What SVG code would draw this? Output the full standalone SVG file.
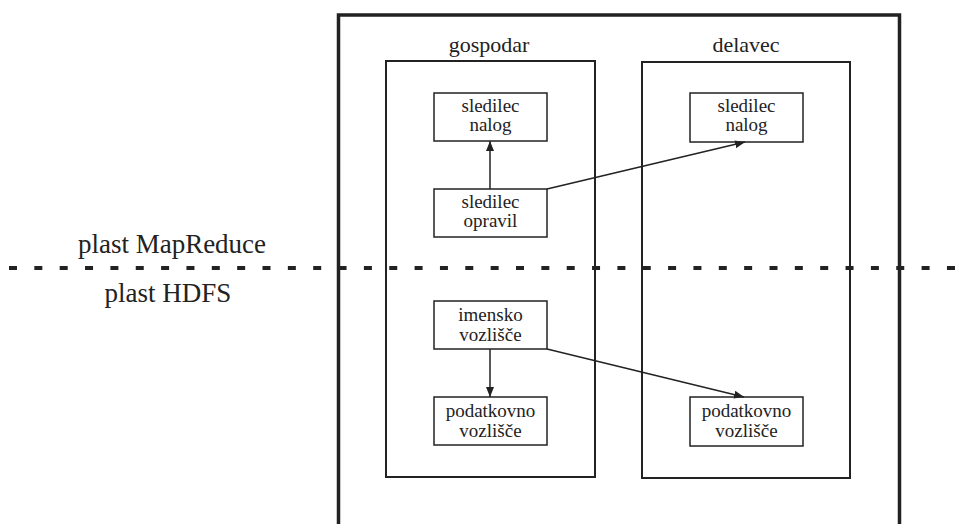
<svg xmlns="http://www.w3.org/2000/svg" width="971" height="524" viewBox="0 0 971 524">
<style>
text{font-family:"Liberation Serif","DejaVu Serif",serif;fill:#222;text-anchor:middle}
.node rect{fill:#fff;stroke:#222;stroke-width:1.5}
.t{font-size:19px}
.lbl{font-size:22px}
.layer{font-size:27px}
.host{fill:none;stroke:#222;stroke-width:2}
.conn line{stroke:#222;stroke-width:1.5;fill:none}
</style>
<defs>
<marker id="ah" viewBox="0 0 10 8" refX="10" refY="4" markerWidth="10" markerHeight="8" markerUnits="userSpaceOnUse" orient="auto">
<path d="M0,0 L10,4 L0,8 z" fill="#222"/>
</marker>
</defs>
<rect x="0" y="0" width="971" height="524" fill="#fff"/>
<g id="cluster">
<path d="M338.5,524 V15 H899.5 V524" fill="none" stroke="#222" stroke-width="3.5"/>
</g>
<g id="layer-line">
<line x1="9" y1="268" x2="971" y2="268" stroke="#222" stroke-width="4" stroke-dasharray="8 17.35"/>
<text class="layer" x="172" y="253">plast MapReduce</text>
<text class="layer" x="168" y="302">plast HDFS</text>
</g>
<g id="gospodar">
<rect class="host" x="386" y="61" width="209" height="416"/>
<text class="lbl" x="489" y="52">gospodar</text>
</g>
<g id="delavec">
<rect class="host" x="642" y="62" width="208" height="416"/>
<text class="lbl" x="746" y="52">delavec</text>
</g>
<g id="m-sledilec-nalog" class="node">
<rect x="434" y="93" width="113" height="48"/>
<text class="t" x="490.5" y="112">sledilec</text>
<text class="t" x="490.5" y="131">nalog</text>
</g>
<g id="m-sledilec-opravil" class="node">
<rect x="434" y="189" width="113" height="48"/>
<text class="t" x="490.5" y="208">sledilec</text>
<text class="t" x="490.5" y="227">opravil</text>
</g>
<g id="m-imensko" class="node">
<rect x="434" y="301" width="113" height="48"/>
<text class="t" x="490.5" y="321">imensko</text>
<text class="t" x="490.5" y="341">vozlišče</text>
</g>
<g id="m-podatkovno" class="node">
<rect x="434" y="397" width="113" height="48"/>
<text class="t" x="490.5" y="417">podatkovno</text>
<text class="t" x="490.5" y="437">vozlišče</text>
</g>
<g id="w-sledilec-nalog" class="node">
<rect x="690" y="93" width="113" height="49"/>
<text class="t" x="746.5" y="112">sledilec</text>
<text class="t" x="746.5" y="131">nalog</text>
</g>
<g id="w-podatkovno" class="node">
<rect x="690" y="397" width="113" height="49"/>
<text class="t" x="746.5" y="417">podatkovno</text>
<text class="t" x="746.5" y="437">vozlišče</text>
</g>
<g id="connectors" class="conn">
<line x1="490" y1="189" x2="490" y2="141" marker-end="url(#ah)"/>
<line x1="547" y1="189" x2="745" y2="142" marker-end="url(#ah)"/>
<line x1="490" y1="349" x2="490" y2="397" marker-end="url(#ah)"/>
<line x1="547" y1="349" x2="744" y2="397" marker-end="url(#ah)"/>
</g>
</svg>
